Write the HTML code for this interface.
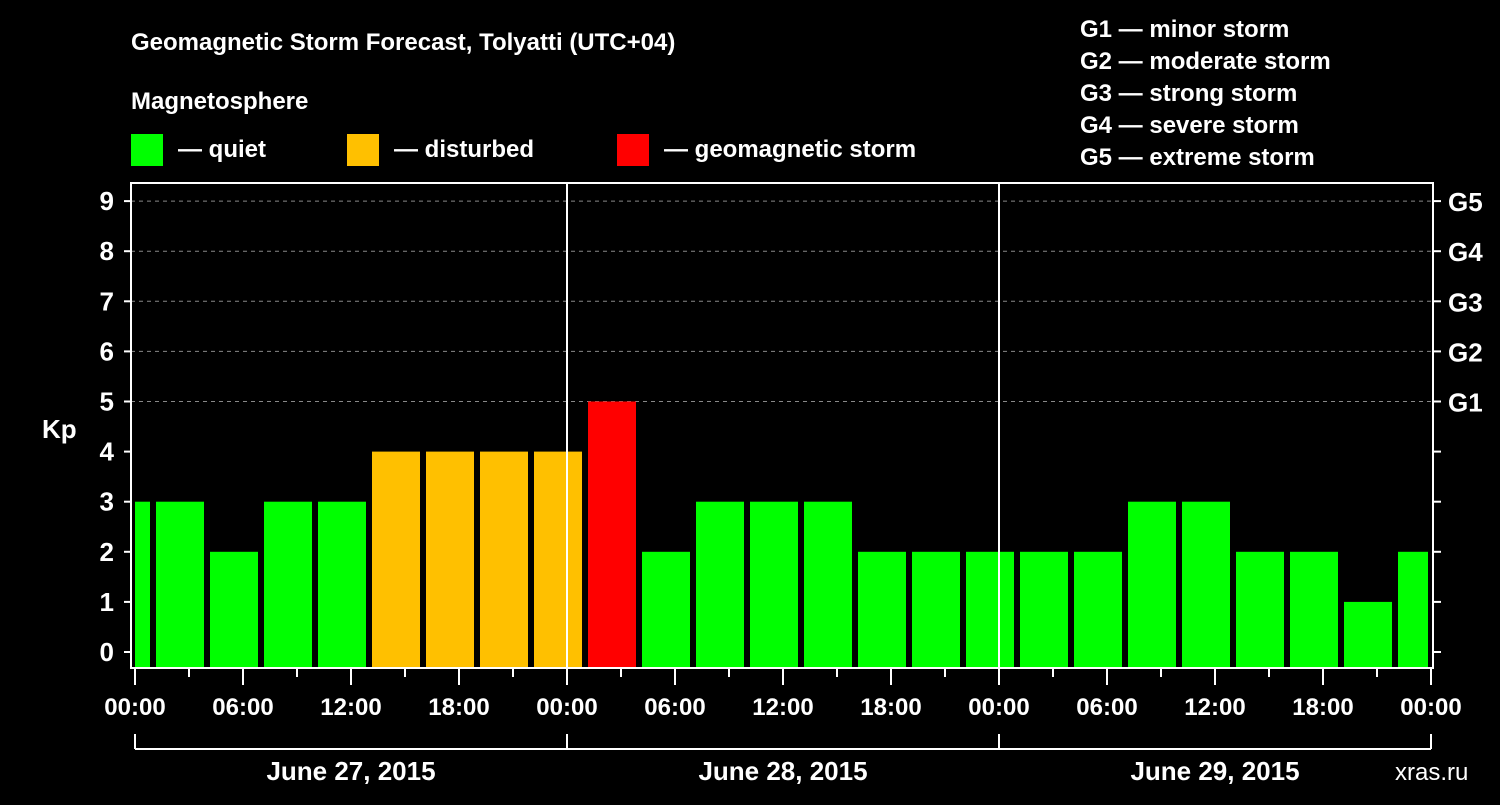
<!DOCTYPE html>
<html><head><meta charset="utf-8"><style>
html,body{margin:0;padding:0;background:#000;}
svg text{font-family:"Liberation Sans",sans-serif;font-weight:bold;fill:#fff;}
</style></head><body>
<svg id="chart" width="1500" height="800" viewBox="0 0 1500 800" xmlns="http://www.w3.org/2000/svg">
<rect width="1500" height="800" fill="#000"/>
<text x="131" y="50" font-size="24">Geomagnetic Storm Forecast, Tolyatti (UTC+04)</text>
<text x="131" y="109" font-size="24">Magnetosphere</text>
<rect x="131" y="134" width="32" height="32" fill="#00ff00"/>
<text x="178" y="157" font-size="24">— quiet</text>
<rect x="347" y="134" width="32" height="32" fill="#ffc000"/>
<text x="394" y="157" font-size="24">— disturbed</text>
<rect x="617" y="134" width="32" height="32" fill="#ff0000"/>
<text x="664" y="157" font-size="24">— geomagnetic storm</text>
<g font-size="24">
<text x="1080" y="37">G1 — minor storm</text>
<text x="1080" y="69">G2 — moderate storm</text>
<text x="1080" y="101">G3 — strong storm</text>
<text x="1080" y="133">G4 — severe storm</text>
<text x="1080" y="165">G5 — extreme storm</text>
</g>
<text x="42" y="438" font-size="26">Kp</text>
<text x="1395" y="780" font-size="24" style="font-weight:normal" fill="#888">xras.ru</text>
<g id="grid"></g>
<g id="bars"></g>
<g id="axes"></g>
</svg>
<script>
const kpValues = [3,3,2,3,3,4,4,4,4,5,2,3,3,3,2,2,2,2,2,3,3,2,2,1,2];
const slotStartHours = [-2,1,4,7,10,13,16,19,22,25,28,31,34,37,40,43,46,49,52,55,58,61,64,67,70];
const yTickLabels = ["0","1","2","3","4","5","6","7","8","9"];
const gLabels = ["G1","G2","G3","G4","G5"];
const timeLabels = ["00:00","06:00","12:00","18:00","00:00","06:00","12:00","18:00","00:00","06:00","12:00","18:00","00:00"];
const dateLabels = ["June 27, 2015","June 28, 2015","June 29, 2015"];

const NS="http://www.w3.org/2000/svg";
const X0=135, PXH=432/24, Y0=652, PXK=50.1;
const PL=131, PR=1433, PT=183, PB=668;
const xs=h=>X0+h*PXH, ys=k=>Y0-k*PXK;
function mk(tag,attrs,parent){const e=document.createElementNS(NS,tag);for(const k in attrs)e.setAttribute(k,attrs[k]);document.getElementById(parent).appendChild(e);return e;}
function color(k){return k>=5?"#ff0000":k>=4?"#ffc000":"#00ff00";}

// gridlines
for(let k=5;k<=9;k++){
 const l=mk("line",{x1:PL,x2:PR,y1:ys(k),y2:ys(k),stroke:"#888","stroke-dasharray":"4,4","stroke-width":1},"grid");
 
 
}
// bars
kpValues.forEach((v,i)=>{
 let x1=xs(slotStartHours[i])+3, x2=xs(slotStartHours[i]+3)-3;
 x1=Math.max(x1,PL+4); x2=Math.min(x2,PR-5);
 const r=mk("rect",{x:x1,y:ys(v),width:x2-x1,height:PB-1-ys(v),fill:color(v)},"bars");
 
 
});
// day separators
for(let d=1;d<=2;d++){
 const l=mk("line",{x1:xs(24*d),x2:xs(24*d),y1:PT,y2:PB,stroke:"#fff","stroke-width":2},"axes");
 
 
}
// frame
const fr=mk("rect",{x:PL,y:PT,width:PR-PL,height:PB-PT,fill:"none",stroke:"#fff","stroke-width":2},"axes");


// y ticks
yTickLabels.forEach((t,k)=>{
 const y=ys(k);
 const l=mk("line",{x1:PL-7,x2:PL,y1:y,y2:y,stroke:"#fff","stroke-width":2},"axes");
 
 
 const l2=mk("line",{x1:PR,x2:PR+8,y1:y,y2:y,stroke:"#fff","stroke-width":2},"axes");
 
 
 const tx=mk("text",{x:114,y:y+9,"text-anchor":"end","font-size":26},"axes");
 tx.textContent=t;
 
 
});
gLabels.forEach((g,i)=>{
 const tx=mk("text",{x:1448,y:ys(5+i)+10,"font-size":26},"axes");
 tx.textContent=g;
 
 
});
// x ticks
for(let h=0;h<=72;h+=3){
 const major=h%6===0;
 const l=mk("line",{x1:xs(h),x2:xs(h),y1:PB,y2:PB+(major?17:9),stroke:"#fff","stroke-width":2},"axes");
 
 
}
timeLabels.forEach((t,i)=>{
 const tx=mk("text",{x:xs(i*6),y:715,"text-anchor":"middle","font-size":24},"axes");
 tx.textContent=t;
 
 
});
// date bracket
const br=mk("line",{x1:xs(0),x2:xs(72),y1:749,y2:749,stroke:"#fff","stroke-width":2},"axes");


for(let d=0;d<=3;d++){
 const l=mk("line",{x1:xs(24*d),x2:xs(24*d),y1:734,y2:749,stroke:"#fff","stroke-width":2},"axes");
 
 
}
dateLabels.forEach((t,i)=>{
 const tx=mk("text",{x:xs(24*i+12),y:780,"text-anchor":"middle","font-size":26},"axes");
 tx.textContent=t;
 
 
});
</script>
</body></html>
